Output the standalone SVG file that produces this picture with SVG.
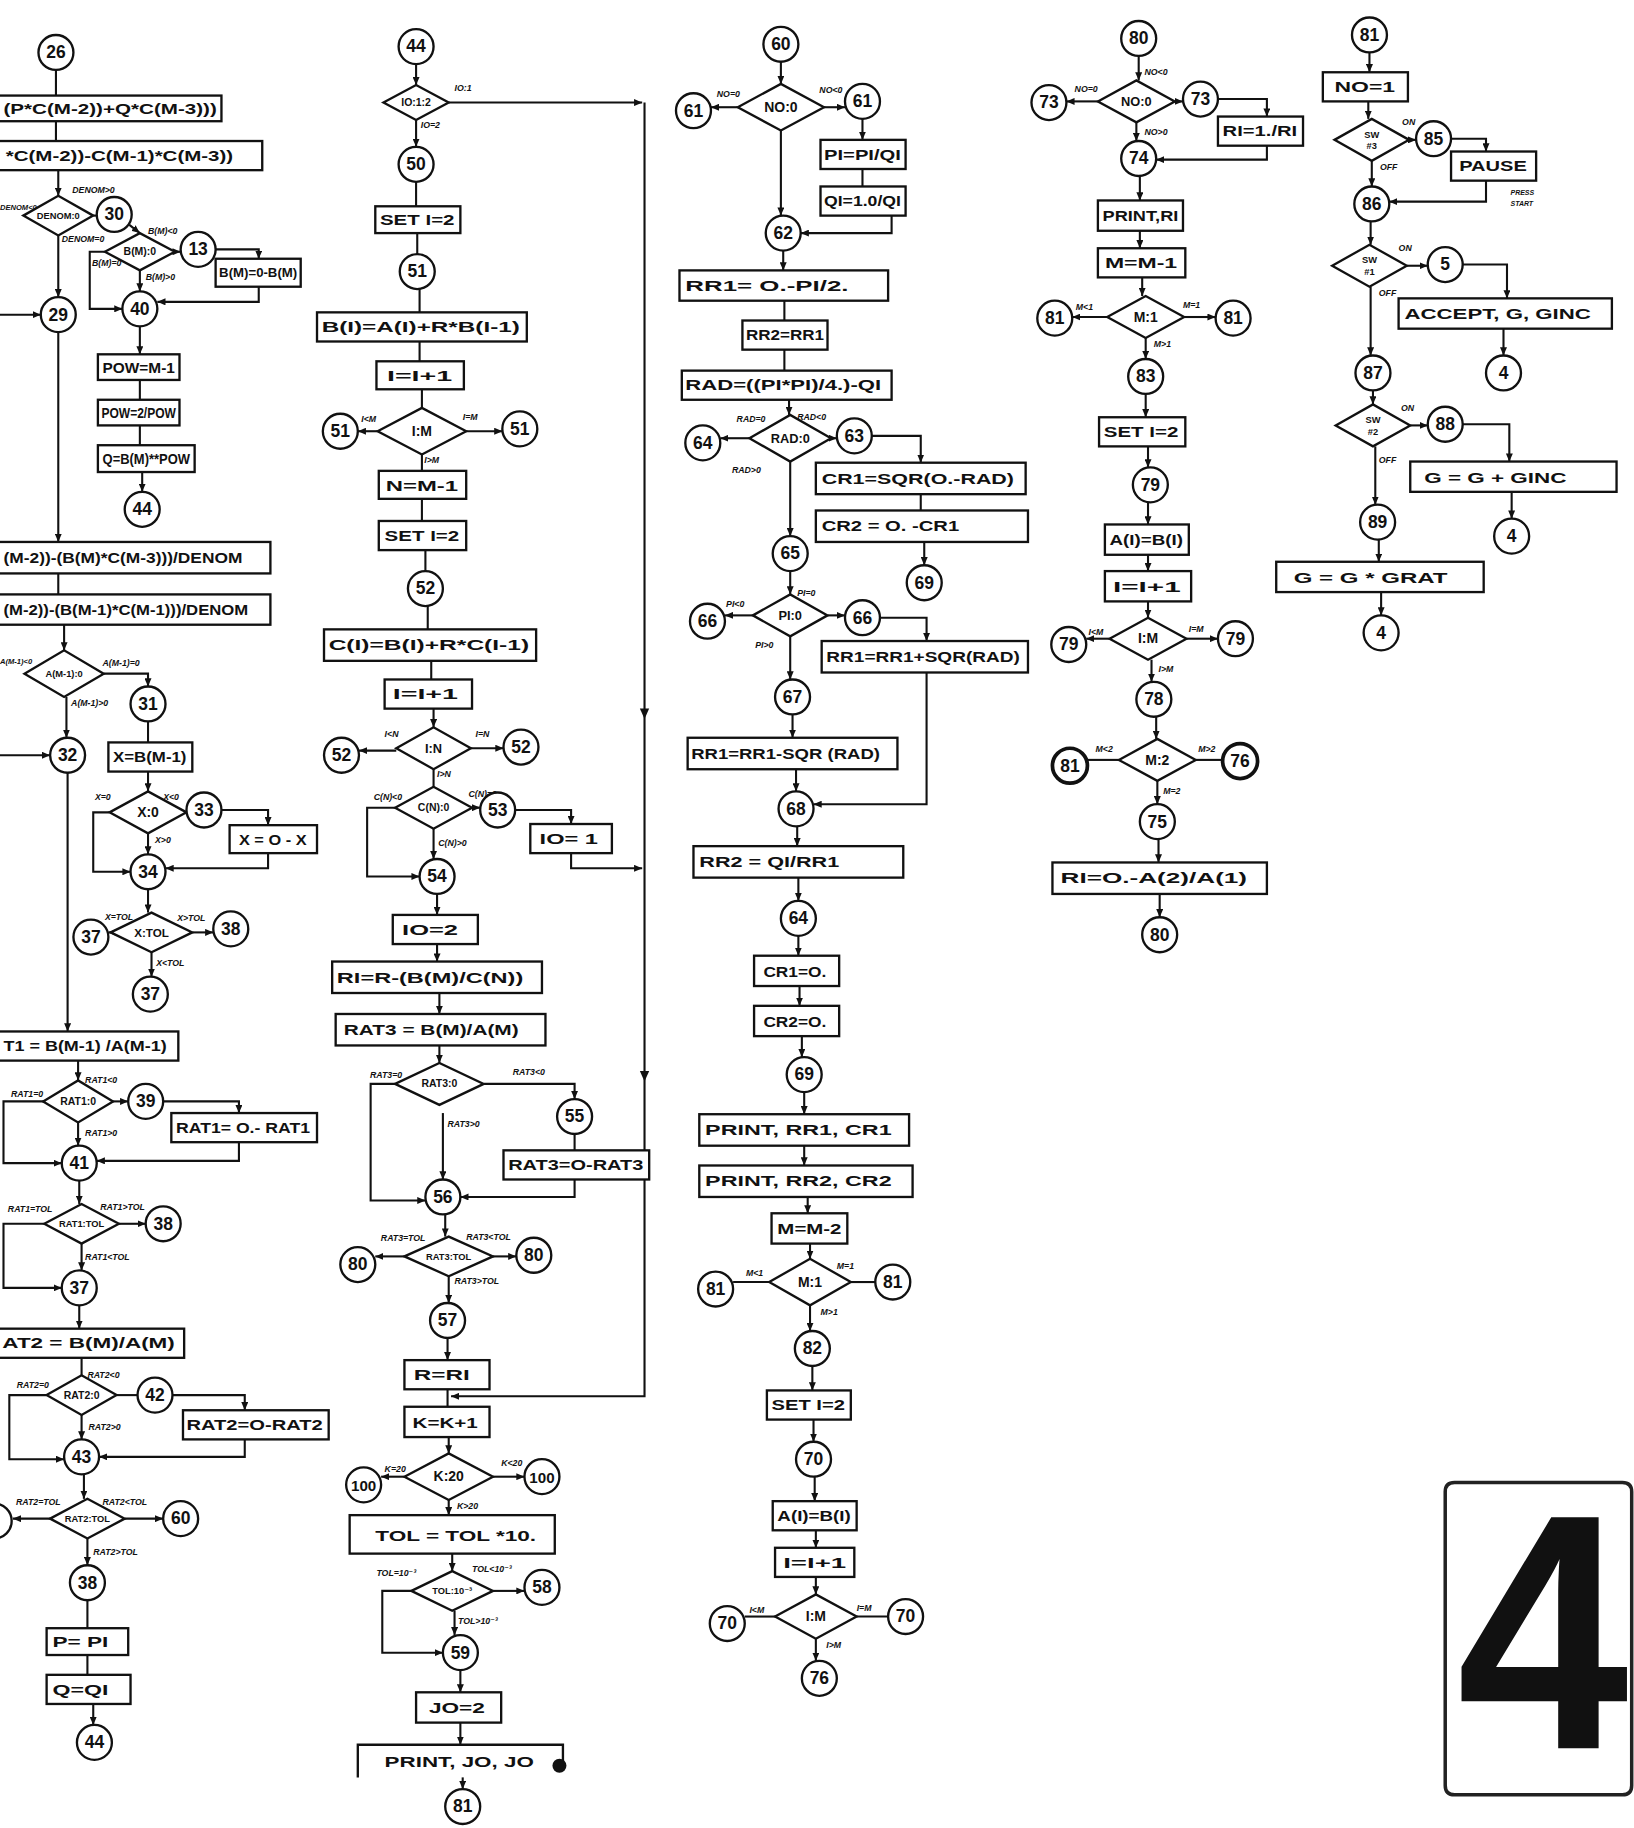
<svg xmlns="http://www.w3.org/2000/svg" width="1634" height="1828" viewBox="0 0 1634 1828">
<style>
.n circle,.b rect,.d polygon,.b path{fill:#fff;stroke:#111;stroke-width:2}
text{font-family:"Liberation Sans","DejaVu Sans",sans-serif;font-weight:bold;fill:#111}
.n text{font-size:15px;text-anchor:middle}
.b text{font-size:13px}
.d text{font-size:10px;text-anchor:middle}
.lb text{font-size:7.5px;font-style:italic}
.ln path{fill:none;stroke:#111;stroke-width:1.8}
.ln path.a{marker-end:url(#ah)}
.thick circle{stroke-width:3.2}
</style>
<defs>
<marker id="ah" markerUnits="userSpaceOnUse" markerWidth="7" markerHeight="6" refX="7" refY="3" orient="auto"><path d="M0,0 L7,3 L0,6 z" fill="#111"/></marker>
</defs>
<rect width="1634" height="1828" fill="#fff"/>
<g transform="scale(1.1655)">
<g id="connectors" class="ln">
<path d="M48 60V82"/><path d="M48 104V121"/><path class="a" d="M50 146V168"/><path d="M80 185H83"/>
<path class="a" d="M111 193L120 200"/><path class="a" d="M150 216H155"/><path class="a" d="M185 214H222V222"/>
<path class="a" d="M222 246V259H135"/><path class="a" d="M90 216H77V265H105"/><path class="a" d="M120 232V250"/>
<path class="a" d="M0 270H35"/><path class="a" d="M50 202V255"/><path class="a" d="M50 285V465"/>
<path class="a" d="M120 280V304"/><path d="M120 326V343"/><path d="M120 365V382"/><path class="a" d="M122 405V422"/>
<path d="M50 492V510"/><path class="a" d="M55 536V558"/><path class="a" d="M89 578H127V589"/><path class="a" d="M57 598V633"/>
<path class="a" d="M0 648H43"/><path class="a" d="M58 663V885"/><path d="M127 619V637"/><path class="a" d="M127 662V679"/>
<path class="a" d="M190 695H230V708"/><path class="a" d="M230 732V745H142"/><path class="a" d="M94 697H80V748H112"/>
<path class="a" d="M127 715V733"/><path class="a" d="M127 763V783"/><path class="a" d="M95 800H93"/><path class="a" d="M165 800H183"/>
<path class="a" d="M130 817V838"/><path class="a" d="M67 910V927"/><path class="a" d="M97 945H110"/>
<path class="a" d="M140 945H205V955"/><path class="a" d="M205 980V996H83"/><path class="a" d="M37 945H3V998H53"/>
<path class="a" d="M67 963V983"/><path class="a" d="M68 1013V1033"/><path class="a" d="M102 1050H125"/>
<path class="a" d="M38 1050H3V1105H53"/><path class="a" d="M70 1067V1090"/><path class="a" d="M68 1120V1140"/>
<path d="M70 1165V1180"/><path d="M100 1197H118"/><path class="a" d="M148 1197H210V1210"/><path class="a" d="M210 1235V1250H85"/>
<path class="a" d="M40 1197H8V1252H55"/><path class="a" d="M70 1214V1235"/><path class="a" d="M72 1265V1286"/>
<path class="a" d="M43 1303H11"/><path class="a" d="M107 1303H140"/><path class="a" d="M75 1320V1343"/>
<path d="M75 1373V1397"/><path d="M75 1420V1437"/><path class="a" d="M80 1462V1480"/>

<path class="a" d="M357 55V73"/><path class="a" d="M385 88H551"/><path class="a" d="M553 88V1198H387"/>
<path class="a" d="M357 103V126"/><path d="M357 156V177"/><path d="M358 200V218"/><path d="M360 248V268"/>
<path d="M360 293V310"/><path d="M362 334V350"/><path class="a" d="M324 370H307"/><path class="a" d="M400 370H431"/>
<path d="M362 390V404"/><path d="M362 428V447"/><path d="M365 472V490"/><path d="M367 520V540"/><path d="M370 567V583"/>
<path class="a" d="M372 608V624"/><path class="a" d="M340 644H308"/><path class="a" d="M404 642H432"/><path d="M372 660V675"/>
<path class="a" d="M405 693H412"/><path class="a" d="M442 695H490V707"/><path class="a" d="M490 732V745H551"/>
<path class="a" d="M339 693H315V752H360"/><path class="a" d="M372 711V737"/><path class="a" d="M375 767V785"/>
<path class="a" d="M375 810V825"/><path class="a" d="M377 852V870"/><path class="a" d="M377 897V912"/>
<path class="a" d="M415 930H493V943"/><path d="M493 973V987"/><path class="a" d="M493 1012V1027H395"/>
<path class="a" d="M339 930H318V1030H365"/><path class="a" d="M380 955V1012"/><path class="a" d="M382 1042V1061"/>
<path class="a" d="M347 1078H322"/><path class="a" d="M423 1078H443"/><path class="a" d="M385 1095V1118"/>
<path class="a" d="M384 1148V1167"/><path d="M384 1192V1207"/><path class="a" d="M385 1233V1247"/>
<path class="a" d="M347 1267H327"/><path class="a" d="M423 1267H450"/><path class="a" d="M385 1287V1300"/>
<path class="a" d="M388 1333V1348"/><path class="a" d="M423 1365H450"/><path class="a" d="M353 1365H328V1418H380"/>
<path class="a" d="M390 1382V1403"/><path class="a" d="M395 1433V1452"/><path class="a" d="M395 1478V1497"/><path class="a" d="M397 1525V1535"/>

<path class="a" d="M670 53V72"/><path class="a" d="M633 92H610"/><path class="a" d="M707 92H725"/><path class="a" d="M670 112V185"/>
<path class="a" d="M740 102V120"/><path d="M740 145V160"/><path class="a" d="M765 185V200H687"/><path class="a" d="M672 215V232"/>
<path d="M673 258V275"/><path d="M673 300V318"/><path class="a" d="M677 343V356"/><path class="a" d="M643 376H618"/>
<path class="a" d="M713 376H718"/><path class="a" d="M748 374H790V397"/><path d="M790 424V438"/><path class="a" d="M793 465V485"/>
<path class="a" d="M678 396V460"/><path class="a" d="M678 490V510"/><path class="a" d="M646 528H622"/><path class="a" d="M710 528H725"/>
<path class="a" d="M755 530H795V550"/><path class="a" d="M795 577V690H698"/><path class="a" d="M678 546V583"/>
<path class="a" d="M680 613V633"/><path class="a" d="M683 660V679"/><path class="a" d="M684 709V726"/><path class="a" d="M685 753V773"/>
<path class="a" d="M685 803V820"/><path class="a" d="M686 846V863"/><path class="a" d="M688 889V907"/><path class="a" d="M690 937V956"/>
<path class="a" d="M690 983V1000"/><path class="a" d="M693 1027V1041"/><path class="a" d="M695 1067V1080"/>
<path d="M660 1100H629"/><path d="M730 1100H751"/><path class="a" d="M695 1120V1142"/><path class="a" d="M697 1172V1193"/>
<path class="a" d="M698 1218V1237"/><path class="a" d="M699 1267V1288"/><path class="a" d="M700 1313V1328"/>
<path class="a" d="M700 1353V1368"/><path d="M665 1387H639"/><path d="M735 1387H762"/><path class="a" d="M700 1406V1425"/>

<path class="a" d="M977 48V69"/><path class="a" d="M942 87H915"/><path class="a" d="M1008 87H1015"/>
<path class="a" d="M1045 85H1087V100"/><path class="a" d="M1087 125V137H992"/><path class="a" d="M975 105V121"/>
<path class="a" d="M978 151V172"/><path class="a" d="M978 198V213"/><path class="a" d="M980 238V254"/>
<path class="a" d="M950 272H920"/><path class="a" d="M1016 272H1043"/><path class="a" d="M983 290V308"/>
<path class="a" d="M983 338V358"/><path class="a" d="M985 383V401"/><path class="a" d="M985 431V450"/>
<path class="a" d="M985 476V490"/><path class="a" d="M985 516V530"/><path class="a" d="M952 548H932"/>
<path class="a" d="M1018 548H1045"/><path class="a" d="M988 566V585"/><path class="a" d="M992 615V634"/>
<path d="M960 652H933"/><path d="M1026 652H1049"/><path class="a" d="M993 670V690"/><path class="a" d="M994 720V740"/><path class="a" d="M995 767V787"/>

<path class="a" d="M1175 45V62"/><path class="a" d="M1174 87V102"/><path class="a" d="M1209 120H1215"/>
<path class="a" d="M1245 119H1275V130"/><path class="a" d="M1275 155V173H1192"/><path class="a" d="M1177 138V160"/>
<path class="a" d="M1176 190V210"/><path class="a" d="M1207 228H1225"/><path class="a" d="M1255 227H1293V256"/>
<path class="a" d="M1290 282V305"/><path class="a" d="M1176 246V305"/><path class="a" d="M1178 335V347"/>
<path class="a" d="M1210 365H1225"/><path class="a" d="M1255 364H1295V396"/><path class="a" d="M1297 422V445"/>
<path class="a" d="M1180 383V433"/><path class="a" d="M1183 463V482"/><path class="a" d="M1185 508V528"/>
<polygon points="549,608 557,608 553,617" fill="#111"/><polygon points="549,919 557,919 553,928" fill="#111"/>
</g>
<g id="labels" class="lb">
<text x="0" y="180" style="font-size:6.5px">DENOM&lt;0</text><text x="62" y="166">DENOM&gt;0</text><text x="53" y="208">DENOM=0</text>
<text x="127" y="201">B(M)&lt;0</text><text x="79" y="228">B(M)=0</text><text x="125" y="240">B(M)&gt;0</text>
<text x="0" y="570" style="font-size:6.5px">A(M-1)&lt;0</text><text x="88" y="571">A(M-1)=0</text><text x="61" y="606">A(M-1)&gt;0</text>
<text x="95" y="686" text-anchor="end">X=0</text><text x="140" y="686">X&lt;0</text><text x="133" y="723">X&gt;0</text>
<text x="90" y="789">X=TOL</text><text x="152" y="790">X&gt;TOL</text><text x="134" y="829">X&lt;TOL</text>
<text x="73" y="929">RAT1&lt;0</text><text x="37" y="941" text-anchor="end">RAT1=0</text><text x="73" y="975">RAT1&gt;0</text>
<text x="45" y="1040" text-anchor="end">RAT1=TOL</text><text x="86" y="1038">RAT1&gt;TOL</text><text x="73" y="1081">RAT1&lt;TOL</text>
<text x="75" y="1182">RAT2&lt;0</text><text x="42" y="1191" text-anchor="end">RAT2=0</text><text x="76" y="1227">RAT2&gt;0</text>
<text x="52" y="1291" text-anchor="end">RAT2=TOL</text><text x="88" y="1291">RAT2&lt;TOL</text><text x="80" y="1334">RAT2&gt;TOL</text>
<text x="390" y="78">IO:1</text><text x="361" y="110">IO=2</text>
<text x="310" y="362">I&lt;M</text><text x="397" y="360">I=M</text><text x="364" y="397">I&gt;M</text>
<text x="330" y="632">I&lt;N</text><text x="408" y="632">I=N</text><text x="375" y="667">I&gt;N</text>
<text x="345" y="686" text-anchor="end">C(N)&lt;0</text><text x="402" y="684">C(N)=0</text><text x="376" y="726">C(N)&gt;0</text>
<text x="345" y="925" text-anchor="end">RAT3=0</text><text x="440" y="922">RAT3&lt;0</text><text x="384" y="967">RAT3&gt;0</text>
<text x="365" y="1065" text-anchor="end">RAT3=TOL</text><text x="400" y="1064">RAT3&lt;TOL</text><text x="390" y="1102">RAT3&gt;TOL</text>
<text x="330" y="1263">K=20</text><text x="430" y="1258">K&lt;20</text><text x="392" y="1295">K&gt;20</text>
<text x="357" y="1352" text-anchor="end">TOL=10⁻³</text><text x="405" y="1349">TOL&lt;10⁻³</text><text x="393" y="1393">TOL&gt;10⁻³</text>
<text x="615" y="83">NO=0</text><text x="703" y="80">NO&lt;0</text>
<text x="632" y="362">RAD=0</text><text x="684" y="360">RAD&lt;0</text><text x="628" y="406">RAD&gt;0</text>
<text x="623" y="521">PI&lt;0</text><text x="684" y="511">PI=0</text><text x="648" y="556">PI&gt;0</text>
<text x="640" y="1095">M&lt;1</text><text x="718" y="1089">M=1</text><text x="704" y="1128">M&gt;1</text>
<text x="643" y="1384">I&lt;M</text><text x="735" y="1382">I=M</text><text x="709" y="1414">I&gt;M</text>
<text x="922" y="79">NO=0</text><text x="982" y="64">NO&lt;0</text><text x="982" y="116">NO&gt;0</text>
<text x="923" y="266">M&lt;1</text><text x="1015" y="264">M=1</text><text x="990" y="298">M&gt;1</text>
<text x="934" y="545">I&lt;M</text><text x="1020" y="542">I=M</text><text x="994" y="577">I&gt;M</text>
<text x="940" y="645">M&lt;2</text><text x="1028" y="645">M&gt;2</text><text x="998" y="681">M=2</text>
<text x="1203" y="107">ON</text><text x="1184" y="146">OFF</text>
<text x="1296" y="167" style="font-size:6px">PRESS</text><text x="1296" y="177" style="font-size:6px">START</text>
<text x="1200" y="215">ON</text><text x="1183" y="254">OFF</text><text x="1202" y="353">ON</text><text x="1183" y="397">OFF</text>
</g>

<g id="c26" class="n"><circle cx="48" cy="45" r="15"/><text x="48" y="50">26</text></g>
<g id="b1" class="b"><rect x="-10" y="82" width="200" height="22"/><text x="3" y="98" textLength="183" lengthAdjust="spacingAndGlyphs">(P*C(M-2))+Q*C(M-3)))</text></g>
<g id="b2" class="b"><rect x="-10" y="121" width="235" height="25"/><text x="5" y="138" textLength="195" lengthAdjust="spacingAndGlyphs">*C(M-2))-C(M-1)*C(M-3))</text></g>
<g id="d_denom" class="d"><polygon points="20,185 50,168 80,185 50,202"/><text x="50" y="188" style="font-size:8px">DENOM:0</text></g>
<g id="c30" class="n"><circle cx="98" cy="184" r="15"/><text x="98" y="189">30</text></g>
<g id="d_bm" class="d"><polygon points="90,216 120,200 150,216 120,232"/><text x="120" y="219" style="font-size:9px">B(M):0</text></g>
<g id="c13" class="n"><circle cx="170" cy="214" r="15"/><text x="170" y="219">13</text></g>
<g id="b_bm" class="b"><rect x="185" y="222" width="73" height="24"/><text x="188" y="238" style="font-size:11px" textLength="67" lengthAdjust="spacingAndGlyphs">B(M)=0-B(M)</text></g>
<g id="c40" class="n"><circle cx="120" cy="265" r="15"/><text x="120" y="270">40</text></g>
<g id="c29" class="n"><circle cx="50" cy="270" r="15"/><text x="50" y="275">29</text></g>
<g id="b_pow1" class="b"><rect x="84" y="304" width="70" height="22"/><text x="88" y="320" textLength="62" lengthAdjust="spacingAndGlyphs">POW=M-1</text></g>
<g id="b_pow2" class="b"><rect x="84" y="343" width="70" height="22"/><text x="87" y="359" textLength="64" lengthAdjust="spacingAndGlyphs">POW=2/POW</text></g>
<g id="b_q" class="b"><rect x="84" y="382" width="83" height="23"/><text x="88" y="398" textLength="75" lengthAdjust="spacingAndGlyphs">Q=B(M)**POW</text></g>
<g id="c44a" class="n"><circle cx="122" cy="437" r="15"/><text x="122" y="442">44</text></g>
<g id="b3" class="b"><rect x="-10" y="465" width="242" height="27"/><text x="3" y="483" textLength="205" lengthAdjust="spacingAndGlyphs">(M-2))-(B(M)*C(M-3)))/DENOM</text></g>
<g id="b4" class="b"><rect x="-10" y="510" width="242" height="26"/><text x="3" y="528" textLength="210" lengthAdjust="spacingAndGlyphs">(M-2))-(B(M-1)*C(M-1)))/DENOM</text></g>
<g id="d_am1" class="d"><polygon points="21,578 55,558 89,578 55,598"/><text x="55" y="581" style="font-size:8px">A(M-1):0</text></g>
<g id="c31" class="n"><circle cx="127" cy="604" r="15"/><text x="127" y="609">31</text></g>
<g id="c32" class="n"><circle cx="58" cy="648" r="15"/><text x="58" y="653">32</text></g>
<g id="b_x" class="b"><rect x="93" y="637" width="72" height="25"/><text x="97" y="654" textLength="63" lengthAdjust="spacingAndGlyphs">X=B(M-1)</text></g>
<g id="d_x0" class="d"><polygon points="94,697 127,679 160,697 127,715"/><text x="127" y="701" style="font-size:12px">X:0</text></g>
<g id="c33" class="n"><circle cx="175" cy="695" r="15"/><text x="175" y="700">33</text></g>
<g id="b_xneg" class="b"><rect x="197" y="708" width="75" height="24"/><text x="205" y="725" textLength="58" lengthAdjust="spacingAndGlyphs">X = O - X</text></g>
<g id="c34" class="n"><circle cx="127" cy="748" r="15"/><text x="127" y="753">34</text></g>
<g id="d_xtol" class="d"><polygon points="95,800 130,783 165,800 130,817"/><text x="130" y="804" style="font-size:10px">X:TOL</text></g>
<g id="c37a" class="n"><circle cx="78" cy="804" r="15"/><text x="78" y="809">37</text></g>
<g id="c38a" class="n"><circle cx="198" cy="797" r="15"/><text x="198" y="802">38</text></g>
<g id="c37b" class="n"><circle cx="129" cy="853" r="15"/><text x="129" y="858">37</text></g>
<g id="b_rat1" class="b"><rect x="-10" y="885" width="163" height="25"/><text x="3" y="902" textLength="140" lengthAdjust="spacingAndGlyphs">T1 = B(M-1) /A(M-1)</text></g>
<g id="d_rat1" class="d"><polygon points="37,945 67,927 97,945 67,963"/><text x="67" y="948" style="font-size:9px">RAT1:0</text></g>
<g id="c39" class="n"><circle cx="125" cy="945" r="15"/><text x="125" y="950">39</text></g>
<g id="b_rat1n" class="b"><rect x="147" y="955" width="125" height="25"/><text x="151" y="972" textLength="115" lengthAdjust="spacingAndGlyphs">RAT1= O.- RAT1</text></g>
<g id="c41" class="n"><circle cx="68" cy="998" r="15"/><text x="68" y="1003">41</text></g>
<g id="d_rat1tol" class="d"><polygon points="38,1050 70,1033 102,1050 70,1067"/><text x="70" y="1053" style="font-size:8px">RAT1:TOL</text></g>
<g id="c38b" class="n"><circle cx="140" cy="1050" r="15"/><text x="140" y="1055">38</text></g>
<g id="c37c" class="n"><circle cx="68" cy="1105" r="15"/><text x="68" y="1110">37</text></g>
<g id="b_rat2" class="b"><rect x="-10" y="1140" width="168" height="25"/><text x="2" y="1157" textLength="148" lengthAdjust="spacingAndGlyphs">AT2 = B(M)/A(M)</text></g>
<g id="d_rat2" class="d"><polygon points="40,1197 70,1180 100,1197 70,1214"/><text x="70" y="1200" style="font-size:9px">RAT2:0</text></g>
<g id="c42" class="n"><circle cx="133" cy="1197" r="15"/><text x="133" y="1202">42</text></g>
<g id="b_rat2n" class="b"><rect x="157" y="1210" width="125" height="25"/><text x="160" y="1227" textLength="117" lengthAdjust="spacingAndGlyphs">RAT2=O-RAT2</text></g>
<g id="c43" class="n"><circle cx="70" cy="1250" r="15"/><text x="70" y="1255">43</text></g>
<g id="d_rat2tol" class="d"><polygon points="43,1303 75,1286 107,1303 75,1320"/><text x="75" y="1306" style="font-size:8px">RAT2:TOL</text></g>
<g id="c_edge" class="n"><circle cx="-5" cy="1305" r="15"/></g>
<g id="c60a" class="n"><circle cx="155" cy="1303" r="15"/><text x="155" y="1308">60</text></g>
<g id="c38c" class="n"><circle cx="75" cy="1358" r="15"/><text x="75" y="1363">38</text></g>
<g id="b_p" class="b"><rect x="40" y="1397" width="70" height="23"/><text x="45" y="1413" textLength="48" lengthAdjust="spacingAndGlyphs">P= PI</text></g>
<g id="b_q2" class="b"><rect x="40" y="1437" width="72" height="25"/><text x="45" y="1454" textLength="48" lengthAdjust="spacingAndGlyphs">Q=QI</text></g>
<g id="c44b" class="n"><circle cx="81" cy="1495" r="15"/><text x="81" y="1500">44</text></g>

<g id="c44c" class="n"><circle cx="357" cy="40" r="15"/><text x="357" y="45">44</text></g>
<g id="d_io" class="d"><polygon points="329,88 357,73 385,88 357,103"/><text x="357" y="91" style="font-size:9px">IO:1:2</text></g>
<g id="c50" class="n"><circle cx="357" cy="141" r="15"/><text x="357" y="146">50</text></g>
<g id="b_seti1" class="b"><rect x="322" y="177" width="73" height="23"/><text x="326" y="193" textLength="64" lengthAdjust="spacingAndGlyphs">SET I=2</text></g>
<g id="c51a" class="n"><circle cx="358" cy="233" r="15"/><text x="358" y="238">51</text></g>
<g id="b_bi" class="b"><rect x="272" y="268" width="180" height="25"/><text x="276" y="285" textLength="170" lengthAdjust="spacingAndGlyphs">B(I)=A(I)+R*B(I-1)</text></g>
<g id="b_ii1" class="b"><rect x="323" y="310" width="75" height="24"/><text x="332" y="327" textLength="56" lengthAdjust="spacingAndGlyphs">I=I+1</text></g>
<g id="d_im1" class="d"><polygon points="324,370 362,350 400,370 362,390"/><text x="362" y="374" style="font-size:12px">I:M</text></g>
<g id="c51b" class="n"><circle cx="292" cy="370" r="15"/><text x="292" y="375">51</text></g>
<g id="c51c" class="n"><circle cx="446" cy="368" r="15"/><text x="446" y="373">51</text></g>
<g id="b_n" class="b"><rect x="325" y="404" width="75" height="24"/><text x="331" y="421" textLength="62" lengthAdjust="spacingAndGlyphs">N=M-1</text></g>
<g id="b_seti2" class="b"><rect x="325" y="447" width="75" height="25"/><text x="330" y="464" textLength="64" lengthAdjust="spacingAndGlyphs">SET I=2</text></g>
<g id="c52a" class="n"><circle cx="365" cy="505" r="15"/><text x="365" y="510">52</text></g>
<g id="b_ci" class="b"><rect x="278" y="540" width="182" height="27"/><text x="282" y="558" textLength="172" lengthAdjust="spacingAndGlyphs">C(I)=B(I)+R*C(I-1)</text></g>
<g id="b_ii2" class="b"><rect x="330" y="583" width="75" height="25"/><text x="337" y="600" textLength="56" lengthAdjust="spacingAndGlyphs">I=I+1</text></g>
<g id="d_in" class="d"><polygon points="340,642 372,624 404,642 372,660"/><text x="372" y="646" style="font-size:11px">I:N</text></g>
<g id="c52b" class="n"><circle cx="293" cy="648" r="15"/><text x="293" y="653">52</text></g>
<g id="c52c" class="n"><circle cx="447" cy="641" r="15"/><text x="447" y="646">52</text></g>
<g id="d_cn" class="d"><polygon points="339,693 372,675 405,693 372,711"/><text x="372" y="696" style="font-size:9px">C(N):0</text></g>
<g id="c53" class="n"><circle cx="427" cy="695" r="15"/><text x="427" y="700">53</text></g>
<g id="b_io1" class="b"><rect x="455" y="707" width="70" height="25"/><text x="463" y="724" textLength="50" lengthAdjust="spacingAndGlyphs">IO= 1</text></g>
<g id="c54" class="n"><circle cx="375" cy="752" r="15"/><text x="375" y="757">54</text></g>
<g id="b_io2" class="b"><rect x="337" y="785" width="73" height="25"/><text x="345" y="802" textLength="48" lengthAdjust="spacingAndGlyphs">IO=2</text></g>
<g id="b_ri" class="b"><rect x="285" y="825" width="180" height="27"/><text x="289" y="843" textLength="160" lengthAdjust="spacingAndGlyphs">RI=R-(B(M)/C(N))</text></g>
<g id="b_rat3" class="b"><rect x="288" y="870" width="180" height="27"/><text x="295" y="888" textLength="150" lengthAdjust="spacingAndGlyphs">RAT3 = B(M)/A(M)</text></g>
<g id="d_rat3" class="d"><polygon points="339,930 377,912 415,930 377,948"/><text x="377" y="933" style="font-size:9px">RAT3:0</text></g>
<g id="c55" class="n"><circle cx="493" cy="958" r="15"/><text x="493" y="963">55</text></g>
<g id="b_rat3n" class="b"><rect x="432" y="987" width="125" height="25"/><text x="436" y="1004" textLength="116" lengthAdjust="spacingAndGlyphs">RAT3=O-RAT3</text></g>
<g id="c56" class="n"><circle cx="380" cy="1027" r="15"/><text x="380" y="1032">56</text></g>
<g id="d_rat3tol" class="d"><polygon points="347,1078 385,1061 423,1078 385,1095"/><text x="385" y="1081" style="font-size:8px">RAT3:TOL</text></g>
<g id="c80a" class="n"><circle cx="307" cy="1085" r="15"/><text x="307" y="1090">80</text></g>
<g id="c80b" class="n"><circle cx="458" cy="1077" r="15"/><text x="458" y="1082">80</text></g>
<g id="c57" class="n"><circle cx="384" cy="1133" r="15"/><text x="384" y="1138">57</text></g>
<g id="b_r" class="b"><rect x="347" y="1167" width="73" height="25"/><text x="355" y="1184" textLength="48" lengthAdjust="spacingAndGlyphs">R=RI</text></g>
<g id="b_k" class="b"><rect x="347" y="1207" width="73" height="26"/><text x="354" y="1225" textLength="56" lengthAdjust="spacingAndGlyphs">K=K+1</text></g>
<g id="d_k" class="d"><polygon points="347,1267 385,1247 423,1267 385,1287"/><text x="385" y="1271" style="font-size:12px">K:20</text></g>
<g id="c100a" class="n"><circle cx="312" cy="1274" r="15"/><text x="312" y="1279" style="font-size:13px">100</text></g>
<g id="c100b" class="n"><circle cx="465" cy="1267" r="15"/><text x="465" y="1272" style="font-size:13px">100</text></g>
<g id="b_tol" class="b"><rect x="300" y="1300" width="176" height="33"/><text x="322" y="1322" textLength="138" lengthAdjust="spacingAndGlyphs">TOL = TOL *10.</text></g>
<g id="d_tol" class="d"><polygon points="353,1365 388,1348 423,1365 388,1382"/><text x="388" y="1368" style="font-size:8px">TOL:10⁻³</text></g>
<g id="c58" class="n"><circle cx="465" cy="1362" r="15"/><text x="465" y="1367">58</text></g>
<g id="c59" class="n"><circle cx="395" cy="1418" r="15"/><text x="395" y="1423">59</text></g>
<g id="b_jo" class="b"><rect x="357" y="1452" width="73" height="26"/><text x="368" y="1470" textLength="48" lengthAdjust="spacingAndGlyphs">JO=2</text></g>
<g id="b_print" class="b"><path d="M307 1525V1497H483V1512" style="fill:none"/><text x="330" y="1516" textLength="128" lengthAdjust="spacingAndGlyphs">PRINT, JO, JO</text><circle cx="480" cy="1515" r="6" style="fill:#111;stroke:none"/></g>
<g id="c81a" class="n"><circle cx="397" cy="1550" r="15"/><text x="397" y="1555">81</text></g>

<g id="c60b" class="n"><circle cx="670" cy="38" r="15"/><text x="670" y="43">60</text></g>
<g id="d_no1" class="d"><polygon points="633,92 670,72 707,92 670,112"/><text x="670" y="96" style="font-size:12px">NO:0</text></g>
<g id="c61a" class="n"><circle cx="595" cy="95" r="15"/><text x="595" y="100">61</text></g>
<g id="c61b" class="n"><circle cx="740" cy="87" r="15"/><text x="740" y="92">61</text></g>
<g id="b_pi" class="b"><rect x="704" y="120" width="73" height="25"/><text x="707" y="137" textLength="66" lengthAdjust="spacingAndGlyphs">PI=PI/QI</text></g>
<g id="b_qi" class="b"><rect x="704" y="160" width="73" height="25"/><text x="707" y="177" textLength="66" lengthAdjust="spacingAndGlyphs">QI=1.0/QI</text></g>
<g id="c62" class="n"><circle cx="672" cy="200" r="15"/><text x="672" y="205">62</text></g>
<g id="b_rr1" class="b"><rect x="583" y="232" width="179" height="26"/><text x="588" y="250" textLength="140" lengthAdjust="spacingAndGlyphs">RR1= O.-PI/2.</text></g>
<g id="b_rr2" class="b"><rect x="637" y="275" width="73" height="25"/><text x="640" y="292" textLength="67" lengthAdjust="spacingAndGlyphs">RR2=RR1</text></g>
<g id="b_rad" class="b"><rect x="585" y="318" width="180" height="25"/><text x="588" y="335" textLength="168" lengthAdjust="spacingAndGlyphs">RAD=((PI*PI)/4.)-QI</text></g>
<g id="d_rad" class="d"><polygon points="643,376 678,356 713,376 678,396"/><text x="678" y="380" style="font-size:11px">RAD:0</text></g>
<g id="c64a" class="n"><circle cx="603" cy="380" r="15"/><text x="603" y="385">64</text></g>
<g id="c63" class="n"><circle cx="733" cy="374" r="15"/><text x="733" y="379">63</text></g>
<g id="b_cr1" class="b"><rect x="700" y="397" width="180" height="27"/><text x="705" y="415" textLength="165" lengthAdjust="spacingAndGlyphs">CR1=SQR(O.-RAD)</text></g>
<g id="b_cr2" class="b"><rect x="700" y="438" width="182" height="27"/><text x="705" y="456" textLength="118" lengthAdjust="spacingAndGlyphs">CR2 = O. -CR1</text></g>
<g id="c69a" class="n"><circle cx="793" cy="500" r="15"/><text x="793" y="505">69</text></g>
<g id="c65" class="n"><circle cx="678" cy="475" r="15"/><text x="678" y="480">65</text></g>
<g id="d_pi" class="d"><polygon points="646,528 678,510 710,528 678,546"/><text x="678" y="532" style="font-size:11px">PI:0</text></g>
<g id="c66a" class="n"><circle cx="607" cy="533" r="15"/><text x="607" y="538">66</text></g>
<g id="c66b" class="n"><circle cx="740" cy="530" r="15"/><text x="740" y="535">66</text></g>
<g id="b_rr1p" class="b"><rect x="705" y="550" width="177" height="27"/><text x="709" y="568" textLength="166" lengthAdjust="spacingAndGlyphs">RR1=RR1+SQR(RAD)</text></g>
<g id="c67" class="n"><circle cx="680" cy="598" r="15"/><text x="680" y="603">67</text></g>
<g id="b_rr1m" class="b"><rect x="590" y="633" width="180" height="27"/><text x="593" y="651" textLength="162" lengthAdjust="spacingAndGlyphs">RR1=RR1-SQR (RAD)</text></g>
<g id="c68" class="n"><circle cx="683" cy="694" r="15"/><text x="683" y="699">68</text></g>
<g id="b_rr2b" class="b"><rect x="595" y="726" width="180" height="27"/><text x="600" y="744" textLength="120" lengthAdjust="spacingAndGlyphs">RR2 = QI/RR1</text></g>
<g id="c64b" class="n"><circle cx="685" cy="788" r="15"/><text x="685" y="793">64</text></g>
<g id="b_cr10" class="b"><rect x="647" y="820" width="73" height="26"/><text x="655" y="838" textLength="54" lengthAdjust="spacingAndGlyphs">CR1=O.</text></g>
<g id="b_cr20" class="b"><rect x="647" y="863" width="73" height="26"/><text x="655" y="881" textLength="54" lengthAdjust="spacingAndGlyphs">CR2=O.</text></g>
<g id="c69b" class="n"><circle cx="690" cy="922" r="15"/><text x="690" y="927">69</text></g>
<g id="b_pr1" class="b"><rect x="600" y="956" width="180" height="27"/><text x="605" y="974" textLength="160" lengthAdjust="spacingAndGlyphs">PRINT, RR1, CR1</text></g>
<g id="b_pr2" class="b"><rect x="600" y="1000" width="183" height="27"/><text x="605" y="1018" textLength="160" lengthAdjust="spacingAndGlyphs">PRINT, RR2, CR2</text></g>
<g id="b_m2" class="b"><rect x="662" y="1041" width="65" height="26"/><text x="667" y="1059" textLength="55" lengthAdjust="spacingAndGlyphs">M=M-2</text></g>
<g id="d_m1a" class="d"><polygon points="660,1100 695,1080 730,1100 695,1120"/><text x="695" y="1104" style="font-size:12px">M:1</text></g>
<g id="c81b" class="n"><circle cx="614" cy="1106" r="15"/><text x="614" y="1111">81</text></g>
<g id="c81c" class="n"><circle cx="766" cy="1100" r="15"/><text x="766" y="1105">81</text></g>
<g id="c82" class="n"><circle cx="697" cy="1157" r="15"/><text x="697" y="1162">82</text></g>
<g id="b_seti3" class="b"><rect x="658" y="1193" width="72" height="25"/><text x="662" y="1210" textLength="63" lengthAdjust="spacingAndGlyphs">SET I=2</text></g>
<g id="c70a" class="n"><circle cx="698" cy="1252" r="15"/><text x="698" y="1257">70</text></g>
<g id="b_ai" class="b"><rect x="663" y="1288" width="72" height="25"/><text x="667" y="1305" textLength="63" lengthAdjust="spacingAndGlyphs">A(I)=B(I)</text></g>
<g id="b_ii3" class="b"><rect x="665" y="1328" width="68" height="25"/><text x="672" y="1345" textLength="54" lengthAdjust="spacingAndGlyphs">I=I+1</text></g>
<g id="d_im2" class="d"><polygon points="665,1387 700,1368 735,1387 700,1406"/><text x="700" y="1391" style="font-size:12px">I:M</text></g>
<g id="c70b" class="n"><circle cx="624" cy="1393" r="15"/><text x="624" y="1398">70</text></g>
<g id="c70c" class="n"><circle cx="777" cy="1387" r="15"/><text x="777" y="1392">70</text></g>
<g id="c76a" class="n"><circle cx="703" cy="1440" r="15"/><text x="703" y="1445">76</text></g>

<g id="c80c" class="n"><circle cx="977" cy="33" r="15"/><text x="977" y="38">80</text></g>
<g id="d_no2" class="d"><polygon points="942,87 975,69 1008,87 975,105"/><text x="975" y="91" style="font-size:11px">NO:0</text></g>
<g id="c73a" class="n"><circle cx="900" cy="88" r="15"/><text x="900" y="93">73</text></g>
<g id="c73b" class="n"><circle cx="1030" cy="85" r="15"/><text x="1030" y="90">73</text></g>
<g id="b_ri1" class="b"><rect x="1045" y="100" width="73" height="25"/><text x="1049" y="117" textLength="64" lengthAdjust="spacingAndGlyphs">RI=1./RI</text></g>
<g id="c74" class="n"><circle cx="977" cy="136" r="15"/><text x="977" y="141">74</text></g>
<g id="b_prri" class="b"><rect x="942" y="172" width="73" height="26"/><text x="946" y="190" textLength="65" lengthAdjust="spacingAndGlyphs">PRINT,RI</text></g>
<g id="b_m1" class="b"><rect x="942" y="213" width="75" height="25"/><text x="948" y="230" textLength="62" lengthAdjust="spacingAndGlyphs">M=M-1</text></g>
<g id="d_m1b" class="d"><polygon points="950,272 983,254 1016,272 983,290"/><text x="983" y="276" style="font-size:12px">M:1</text></g>
<g id="c81d" class="n"><circle cx="905" cy="273" r="15"/><text x="905" y="278">81</text></g>
<g id="c81e" class="n"><circle cx="1058" cy="273" r="15"/><text x="1058" y="278">81</text></g>
<g id="c83" class="n"><circle cx="983" cy="323" r="15"/><text x="983" y="328">83</text></g>
<g id="b_seti4" class="b"><rect x="943" y="358" width="74" height="25"/><text x="947" y="375" textLength="64" lengthAdjust="spacingAndGlyphs">SET I=2</text></g>
<g id="c79a" class="n"><circle cx="987" cy="416" r="15"/><text x="987" y="421">79</text></g>
<g id="b_ai2" class="b"><rect x="948" y="450" width="72" height="26"/><text x="952" y="468" textLength="63" lengthAdjust="spacingAndGlyphs">A(I)=B(I)</text></g>
<g id="b_ii4" class="b"><rect x="948" y="490" width="74" height="26"/><text x="955" y="508" textLength="58" lengthAdjust="spacingAndGlyphs">I=I+1</text></g>
<g id="d_im3" class="d"><polygon points="952,548 985,530 1018,548 985,566"/><text x="985" y="552" style="font-size:12px">I:M</text></g>
<g id="c79b" class="n"><circle cx="917" cy="553" r="15"/><text x="917" y="558">79</text></g>
<g id="c79c" class="n"><circle cx="1060" cy="548" r="15"/><text x="1060" y="553">79</text></g>
<g id="c78" class="n"><circle cx="990" cy="600" r="15"/><text x="990" y="605">78</text></g>
<g id="d_m2" class="d"><polygon points="960,652 993,634 1026,652 993,670"/><text x="993" y="656" style="font-size:12px">M:2</text></g>
<g id="c81f" class="n thick"><circle cx="918" cy="657" r="15"/><text x="918" y="662">81</text></g>
<g id="c76b" class="n thick"><circle cx="1064" cy="653" r="15"/><text x="1064" y="658">76</text></g>
<g id="c75" class="n"><circle cx="993" cy="705" r="15"/><text x="993" y="710">75</text></g>
<g id="b_ri2" class="b"><rect x="903" y="740" width="184" height="27"/><text x="910" y="758" textLength="160" lengthAdjust="spacingAndGlyphs">RI=O.-A(2)/A(1)</text></g>
<g id="c80d" class="n"><circle cx="995" cy="802" r="15"/><text x="995" y="807">80</text></g>

<g id="c81g" class="n"><circle cx="1175" cy="30" r="15"/><text x="1175" y="35">81</text></g>
<g id="b_no1" class="b"><rect x="1135" y="62" width="73" height="25"/><text x="1145" y="79" textLength="52" lengthAdjust="spacingAndGlyphs">NO=1</text></g>
<g id="d_sw3" class="d"><polygon points="1145,120 1177,102 1209,120 1177,138"/><text x="1177" y="118" style="font-size:8px">SW</text><text x="1177" y="128" style="font-size:8px">#3</text></g>
<g id="c85" class="n"><circle cx="1230" cy="119" r="15"/><text x="1230" y="124">85</text></g>
<g id="b_pause" class="b"><rect x="1245" y="130" width="73" height="25"/><text x="1252" y="147" textLength="58" lengthAdjust="spacingAndGlyphs">PAUSE</text></g>
<g id="c86" class="n"><circle cx="1177" cy="175" r="15"/><text x="1177" y="180">86</text></g>
<g id="d_sw1" class="d"><polygon points="1143,228 1175,210 1207,228 1175,246"/><text x="1175" y="226" style="font-size:8px">SW</text><text x="1175" y="236" style="font-size:8px">#1</text></g>
<g id="c5" class="n"><circle cx="1240" cy="227" r="15"/><text x="1240" y="232">5</text></g>
<g id="b_accept" class="b"><rect x="1200" y="256" width="183" height="26"/><text x="1205" y="274" textLength="160" lengthAdjust="spacingAndGlyphs">ACCEPT, G, GINC</text></g>
<g id="c4a" class="n"><circle cx="1290" cy="320" r="15"/><text x="1290" y="325">4</text></g>
<g id="c87" class="n"><circle cx="1178" cy="320" r="15"/><text x="1178" y="325">87</text></g>
<g id="d_sw2" class="d"><polygon points="1146,365 1178,347 1210,365 1178,383"/><text x="1178" y="363" style="font-size:8px">SW</text><text x="1178" y="373" style="font-size:8px">#2</text></g>
<g id="c88" class="n"><circle cx="1240" cy="364" r="15"/><text x="1240" y="369">88</text></g>
<g id="b_ginc" class="b"><rect x="1210" y="396" width="177" height="26"/><text x="1222" y="414" textLength="122" lengthAdjust="spacingAndGlyphs">G = G + GINC</text></g>
<g id="c4b" class="n"><circle cx="1297" cy="460" r="15"/><text x="1297" y="465">4</text></g>
<g id="c89" class="n"><circle cx="1182" cy="448" r="15"/><text x="1182" y="453">89</text></g>
<g id="b_grat" class="b"><rect x="1095" y="482" width="178" height="26"/><text x="1110" y="500" textLength="132" lengthAdjust="spacingAndGlyphs">G = G * GRAT</text></g>
<g id="c4c" class="n"><circle cx="1185" cy="543" r="15"/><text x="1185" y="548">4</text></g>

<g id="pagenum">
<path d="M1248 1272H1392Q1400 1272 1400 1280V1532Q1400 1540 1392 1540H1248Q1240 1540 1240 1532V1280Q1240 1272 1248 1272Z" fill="none" stroke="#222" stroke-width="3"/>
<text transform="translate(1250,1500) scale(0.92,1)" x="0" y="0" style="font-size:288px">4</text>
</g>
</g>
</svg>
